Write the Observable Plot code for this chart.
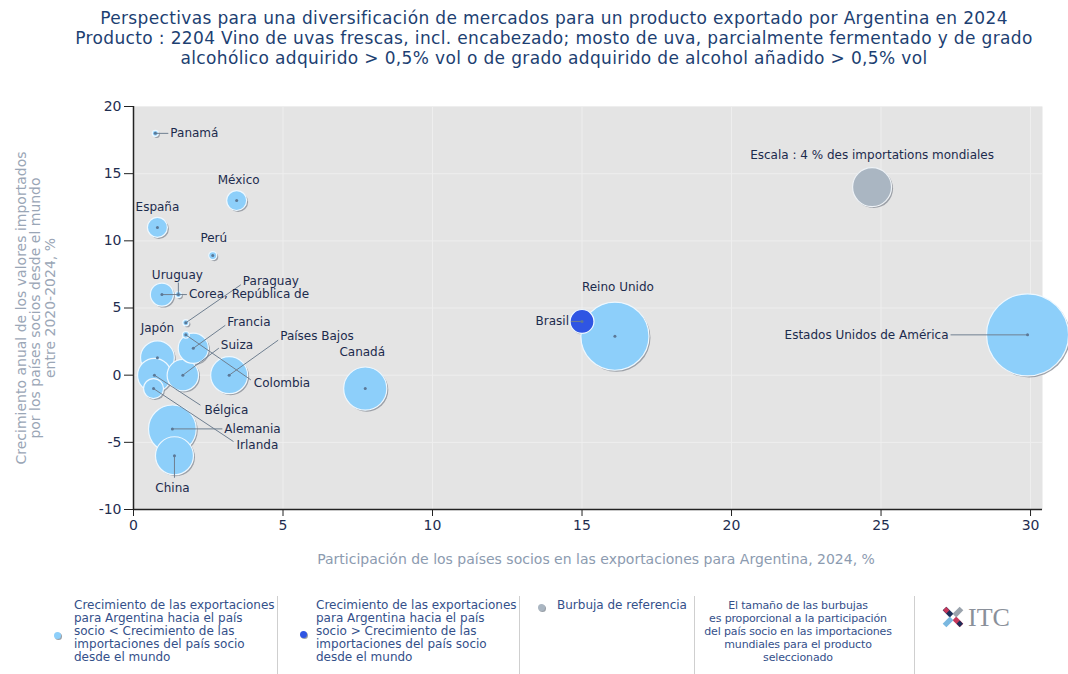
<!DOCTYPE html>
<html>
<head>
<meta charset="utf-8">
<script src="https://cdn.jsdelivr.net/npm/d3@7"></script>
<script src="https://cdn.jsdelivr.net/npm/@observablehq/plot@0.6"></script>
<style>
  body { margin:0; background:#fff; width:1068px; height:674px; position:relative; overflow:hidden; font-family:"DejaVu Sans", sans-serif; }
  #title { position:absolute; top:8px; left:20px; width:1068px; text-align:center; color:#1d3f72; font-size:17px; letter-spacing:0.35px; line-height:20px; white-space:nowrap; }
  #chart { position:absolute; top:80px; left:0; }
  #legend { position:absolute; top:596px; left:0; width:1068px; height:78px; color:#34508a; }
  .lt { position:absolute; top:3px; font-size:12px; line-height:13px; white-space:nowrap; }
  .sep { position:absolute; top:0; width:1px; height:78px; background:#cfcfcf; }
  .bul { position:absolute; width:7px; height:7px; border-radius:50%; box-shadow:1px 1px 0 #9aa0a8; }
</style>
</head>
<body>
<div id="title">Perspectivas para una diversificación de mercados para un producto exportado por Argentina en 2024<br>Producto : 2204 Vino de uvas frescas, incl. encabezado; mosto de uva, parcialmente fermentado y de grado<br>alcohólico adquirido &gt; 0,5% vol o de grado adquirido de alcohol añadido &gt; 0,5% vol</div>
<div id="chart"></div>
<div id="legend">
  <div class="bul" style="left:54px;top:36px;background:#8dcffa"></div>
  <div class="lt" style="left:74px;">Crecimiento de las exportaciones<br>para Argentina hacia el país<br>socio &lt; Crecimiento de las<br>importaciones del país socio<br>desde el mundo</div>
  <div class="sep" style="left:277px"></div>
  <div class="bul" style="left:300px;top:35px;background:#2f55e3"></div>
  <div class="lt" style="left:316px;">Crecimiento de las exportaciones<br>para Argentina hacia el país<br>socio &gt; Crecimiento de las<br>importaciones del país socio<br>desde el mundo</div>
  <div class="sep" style="left:519px"></div>
  <div class="bul" style="left:538px;top:8px;background:#aab6c2"></div>
  <div class="lt" style="left:557px;">Burbuja de referencia</div>
  <div class="sep" style="left:694px"></div>
  <div class="lt" style="left:688px;width:220px;text-align:center;font-size:11px;letter-spacing:-0.15px;">El tamaño de las burbujas<br>es proporcional a la participación<br>del país socio en las importaciones<br>mundiales para el producto<br>seleccionado</div>
  <div class="sep" style="left:914px"></div>
  <svg style="position:absolute;left:938px;top:6px" width="100" height="38" viewBox="0 0 100 38">
    <g transform="translate(15,15)">
      <rect x="-12" y="-2.6" width="10" height="5.2" fill="#1d2f5a" transform="rotate(45)"/>
      <rect x="2" y="-2.6" width="10" height="5.2" fill="#c8375a" transform="rotate(45)"/>
      <rect x="-12" y="-2.6" width="10" height="5.2" fill="#7ab8e0" transform="rotate(-45)"/>
      <rect x="2" y="-2.6" width="10" height="5.2" fill="#9aa3ad" transform="rotate(-45)"/>
      <rect x="-9" y="-9" width="4.5" height="4.5" fill="#c8375a" transform="rotate(45 -6.75 -6.75)"/>
      <rect x="4.5" y="4.5" width="4.5" height="4.5" fill="#1d2f5a" transform="rotate(45 6.75 6.75)"/>
    </g>
    <text x="30" y="24" font-family="Liberation Serif, serif" font-size="26" fill="#8a909a">ITC</text>
  </svg>
</div>
<script>
// ---- Data ----
const countries = ["Panamá","México","España","Perú","Corea, República de","Uruguay","Paraguay","Colombia","Japón","Francia","Suiza","Países Bajos","Bélgica","Irlanda","Alemania","China","Canadá","Reino Unido","Brasil","Estados Unidos de América"];
const exportShare = [0.73, 3.45, 0.8, 2.65, 0.95, 1.5, 1.75, 1.75, 0.8, 2.0, 1.65, 3.2, 0.7, 0.67, 1.3, 1.37, 7.75, 16.1, 15.0, 29.9];
const importGrowth = [18, 13, 11, 8.9, 6, 6, 3.9, 3.0, 1.3, 2.0, 0, 0, 0, -1, -4, -6, -1, 2.9, 4.0, 3.0];
const worldImportShare = [0.1, 1.05, 1.05, 0.17, 1.4, 0.1, 0.1, 0.12, 3.0, 2.4, 2.6, 3.6, 3.0, 1.05, 6.0, 3.8, 4.9, 12.2, 1.5, 17.7];
const growthGroup = ["below","below","below","below","below","below","below","below","below","below","below","below","below","below","below","below","below","below","above","below"];

const refLabel = "Escala : 4 % des importations mondiales";
const refX = [24.7];
const refY = [14];
const refShare = [4];

const xTicks = [0, 5, 10, 15, 20, 25, 30];
const yTicks = [-10, -5, 0, 5, 10, 15, 20];
const xTitle = "Participación de los países socios en las exportaciones para Argentina, 2024, %";
const yTitle = "Crecimiento anual de los valores importados\npor los países socios desde el mundo\nentre 2020-2024, %";

// ---- Label layout (pixel offsets from bubble centre) ----
const labelLayout = {
  "Panamá": {dx:15, dy:0, anchor:"start", lead:[13,0]},
  "México": {dx:2, dy:-20, anchor:"middle"},
  "España": {dx:0, dy:-20, anchor:"middle"},
  "Perú": {dx:1, dy:-17, anchor:"middle"},
  "Corea, República de": {dx:27, dy:0, anchor:"start", lead:[25,0]},
  "Uruguay": {dx:-1, dy:-19, anchor:"middle", lead:[0,-12]},
  "Paraguay": {dx:57, dy:-42, anchor:"start", lead:[55,-38]},
  "Colombia": {dx:68, dy:48, anchor:"start", lead:[65,45]},
  "Japón": {dx:0, dy:-30, anchor:"middle"},
  "Francia": {dx:34, dy:-26, anchor:"start", lead:[32,-23]},
  "Suiza": {dx:38, dy:-30, anchor:"start", lead:[36,-27]},
  "Países Bajos": {dx:51, dy:-39, anchor:"start", lead:[49,-35]},
  "Bélgica": {dx:50, dy:35, anchor:"start", lead:[46,30]},
  "Irlanda": {dx:83, dy:57, anchor:"start", lead:[80,53]},
  "Alemania": {dx:52, dy:0, anchor:"start", lead:[50,0]},
  "China": {dx:-2, dy:32, anchor:"middle", lead:[0,22]},
  "Canadá": {dx:-3, dy:-36, anchor:"middle"},
  "Reino Unido": {dx:3, dy:-49, anchor:"middle"},
  "Brasil": {dx:-13, dy:0, anchor:"end", lead:[-11,0]},
  "Estados Unidos de América": {dx:-79, dy:0, anchor:"end", lead:[-77,0]}
};

// ---- Build tables ----
const data = countries.map((c, i) => ({
  country: c, x: exportShare[i], y: importGrowth[i], share: worldImportShare[i], group: growthGroup[i]
})).sort((a, b) => b.share - a.share);
const ref = refX.map((x, i) => ({x, y: refY[i], share: refShare[i], label: refLabel}));

const W = 1068, H = 500, mL = 133, mR = 26, mT = 26, mB = 71;
const xDomain = [0, 30.4], yDomain = [-10, 20];
const xs = Plot.scale({x: {domain: xDomain, range: [mL, W - mR]}});
const ys = Plot.scale({y: {domain: yDomain, range: [H - mB, mT]}});
const offX = (v, d) => xs.invert(xs.apply(v) + d);
const offY = (v, d) => ys.invert(ys.apply(v) + d);

const labels = data.map(d => {
  const L = labelLayout[d.country];
  return {text: d.country, anchor: L.anchor, x: offX(d.x, L.dx), y: offY(d.y, L.dy)};
});
const links = data.filter(d => labelLayout[d.country].lead).map(d => {
  const L = labelLayout[d.country];
  return {x1: d.x, y1: d.y, x2: offX(d.x, L.lead[0]), y2: offY(d.y, L.lead[1])};
});

const labelColor = "#1c2b4d";
const textMark = (anchor) => Plot.text(labels.filter(l => l.anchor === anchor), {
  x: "x", y: "y", text: "text", textAnchor: anchor, fontSize: 12, fill: labelColor
});

const chart = Plot.plot({
  width: W, height: H,
  marginLeft: mL, marginRight: mR, marginTop: mT, marginBottom: mB,
  style: {fontFamily: "DejaVu Sans, sans-serif", background: "transparent", overflow: "visible"},
  x: {domain: xDomain, label: null},
  y: {domain: yDomain, label: null},
  r: {type: "sqrt", domain: [0, 4], range: [0, 19.5]},
  color: {domain: ["below", "above"], range: ["#8dcffa", "#2f55e3"]},
  marks: [
    Plot.frame({fill: "#e4e4e4", stroke: null}),
    Plot.gridX(xTicks, {stroke: "#eeeeee", strokeOpacity: 1}),
    Plot.gridY(yTicks, {stroke: "#eeeeee", strokeOpacity: 1}),
    Plot.axisX({ticks: xTicks, tickSize: 7, tickPadding: 4, fontSize: 14, color: "#1f2d50", stroke: "#222", label: null, tickFormat: d => String(d)}),
    Plot.axisY({ticks: yTicks, tickSize: 9, tickPadding: 3, fontSize: 14, color: "#1f2d50", stroke: "#222", label: null, tickFormat: d => String(d)}),
    Plot.ruleX([0], {stroke: "#222", strokeWidth: 1.5}),
    Plot.ruleY([-10], {stroke: "#222", strokeWidth: 1.5}),
    // bubble shadows
    Plot.dot(data, {x: "x", y: "y", r: "share", fill: "#8f949c", fillOpacity: 0.85, dx: 1.5, dy: 1.5}),
    Plot.dot(ref, {x: "x", y: "y", r: "share", fill: "#8f949c", fillOpacity: 0.85, dx: 1.5, dy: 1.5}),
    // bubbles
    Plot.dot(data, {x: "x", y: "y", r: "share", fill: "group", stroke: "#eef8ff", strokeWidth: 1.2}),
    Plot.dot(ref, {x: "x", y: "y", r: "share", fill: "#aab6c2", stroke: "#eef2f6", strokeWidth: 1.2}),
    // leader lines
    Plot.link(links, {x1: "x1", y1: "y1", x2: "x2", y2: "y2", stroke: "#6f7f90", strokeWidth: 1}),
    Plot.dot(data, {x: "x", y: "y", r: 1.5, fill: "#5b7896"}),
    textMark("start"), textMark("middle"), textMark("end"),
    Plot.text(ref, {x: "x", y: "y", text: "label", dy: -32, fontSize: 12, fill: labelColor}),
    // axis titles
    Plot.text([xTitle], {frameAnchor: "bottom", dx: 8, dy: 54, fontSize: 14, fill: "#8c9bb0", ariaLabel: "xtitle"}),
    Plot.text([yTitle], {frameAnchor: "left", textAnchor: "middle", dx: -98, rotate: -90, fontSize: 14, lineHeight: 1.05, fill: "#9aa6b6", ariaLabel: "ytitle"})
  ]
});
chart.querySelectorAll('g[aria-label="xtitle"] text').forEach(t => t.setAttribute("letter-spacing", "0.95"));
chart.querySelectorAll('g[aria-label="ytitle"] text').forEach(t => t.setAttribute("letter-spacing", "0.8"));
document.getElementById("chart").appendChild(chart);
</script>
</body>
</html>
